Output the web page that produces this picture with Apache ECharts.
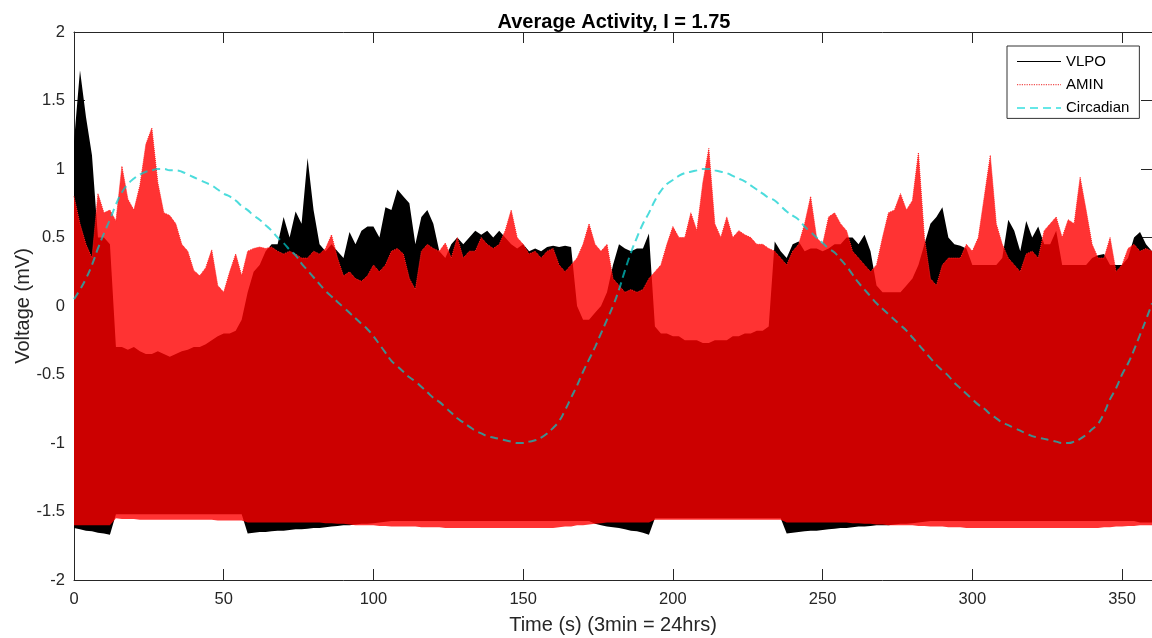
<!DOCTYPE html>
<html><head><meta charset="utf-8">
<script src="https://cdn.jsdelivr.net/npm/echarts@6.0.0/dist/echarts.min.js"></script>
<style>html,body{margin:0;padding:0;background:#fff}#c{width:1152px;height:638px}</style>
</head><body><div id="c"></div>
<script>
// time samples (s)
const timeS = [
0,2,4,6,8,10,12,14,16,18,
20,22,24,26,28,30,32,34,36,38,
40,42,44,46,48,50,52,54,56,58,
60,62,64,66,68,70,72,74,76,78,
80,82,84,86,88,90,92,94,96,98,
100,102,104,106,108,110,112,114,116,118,
120,122,124,126,128,130,132,134,136,138,
140,142,144,146,148,150,152,154,156,158,
160,162,164,166,168,170,172,174,176,178,
180,182,184,186,188,190,192,194,196,198,
200,202,204,206,208,210,212,214,216,218,
220,222,224,226,228,230,232,234,236,238,
240,242,244,246,248,250,252,254,256,258,
260,262,264,266,268,270,272,274,276,278,
280,282,284,286,288,290,292,294,296,298,
300,302,304,306,308,310,312,314,316,318,
320,322,324,326,328,330,332,334,336,338,
340,342,344,346,348,350,352,354,356,358,
360];
// AMIN oscillation envelope (upper / lower), mV
const aminHigh = [
0.8,0.6,0.45,0.35,0.82,0.68,0.7,0.62,1.02,0.78,
0.7,0.88,1.18,1.3,0.9,0.68,0.66,0.6,0.45,0.4,
0.26,0.22,0.28,0.41,0.15,0.1,0.25,0.38,0.22,0.4,
0.42,0.43,0.42,0.43,0.4,0.38,0.4,0.38,0.35,0.35,
0.4,0.38,0.42,0.52,0.35,0.22,0.25,0.2,0.18,0.22,
0.3,0.25,0.3,0.4,0.42,0.38,0.2,0.12,0.4,0.45,
0.42,0.4,0.46,0.35,0.5,0.35,0.4,0.4,0.5,0.45,
0.42,0.45,0.55,0.7,0.5,0.45,0.38,0.4,0.35,0.4,
0.42,0.3,0.25,0.3,0.35,0.45,0.6,0.45,0.4,0.45,
0.2,0.15,0.1,0.12,0.1,0.12,0.2,0.25,0.3,0.45,
0.58,0.5,0.5,0.68,0.55,0.9,1.15,0.6,0.5,0.65,
0.5,0.55,0.52,0.5,0.45,0.45,0.42,0.4,0.35,0.3,
0.4,0.45,0.6,0.8,0.5,0.45,0.65,0.68,0.6,0.55,
0.4,0.35,0.3,0.25,0.3,0.5,0.68,0.7,0.82,0.7,
0.77,1.12,0.5,0.2,0.15,0.3,0.35,0.35,0.35,0.45,
0.4,0.5,0.8,1.1,0.6,0.45,0.35,0.3,0.25,0.38,
0.4,0.35,0.55,0.6,0.65,0.5,0.63,0.6,0.94,0.7,
0.45,0.35,0.35,0.5,0.25,0.3,0.42,0.45,0.4,0.42,
0.4];
const aminLow = [
-1.6,-1.6,-1.6,-1.6,-1.6,-1.6,-1.6,-1.55,-1.555,-1.555,
-1.555,-1.56,-1.56,-1.56,-1.56,-1.56,-1.56,-1.56,-1.56,-1.56,
-1.56,-1.56,-1.56,-1.56,-1.565,-1.565,-1.565,-1.565,-1.565,-1.58,
-1.58,-1.58,-1.58,-1.58,-1.58,-1.58,-1.58,-1.58,-1.58,-1.58,
-1.58,-1.58,-1.585,-1.585,-1.59,-1.59,-1.595,-1.6,-1.6,-1.6,
-1.6,-1.605,-1.605,-1.61,-1.61,-1.61,-1.61,-1.61,-1.615,-1.615,
-1.615,-1.615,-1.62,-1.62,-1.62,-1.62,-1.62,-1.62,-1.62,-1.62,
-1.62,-1.62,-1.62,-1.62,-1.62,-1.62,-1.62,-1.62,-1.62,-1.62,
-1.62,-1.615,-1.61,-1.61,-1.6,-1.6,-1.595,-1.59,-1.585,-1.58,
-1.58,-1.58,-1.58,-1.58,-1.58,-1.58,-1.58,-1.56,-1.56,-1.56,
-1.56,-1.56,-1.56,-1.56,-1.56,-1.56,-1.56,-1.56,-1.56,-1.56,
-1.56,-1.56,-1.56,-1.56,-1.56,-1.56,-1.56,-1.56,-1.56,-1.58,
-1.58,-1.58,-1.58,-1.58,-1.58,-1.58,-1.58,-1.58,-1.58,-1.58,
-1.585,-1.585,-1.59,-1.59,-1.595,-1.595,-1.6,-1.6,-1.6,-1.6,
-1.6,-1.605,-1.605,-1.61,-1.61,-1.61,-1.615,-1.615,-1.615,-1.62,
-1.62,-1.62,-1.62,-1.62,-1.62,-1.62,-1.62,-1.62,-1.62,-1.62,
-1.62,-1.62,-1.62,-1.62,-1.62,-1.62,-1.62,-1.62,-1.62,-1.62,
-1.62,-1.62,-1.615,-1.615,-1.61,-1.61,-1.605,-1.605,-1.6,-1.6,
-1.6];
// VLPO oscillation envelope (upper / lower), mV
const vlpoHigh = [
1.2,1.72,1.38,1.1,0.5,0.5,0.45,-0.3,-0.3,-0.32,
-0.3,-0.33,-0.35,-0.35,-0.33,-0.35,-0.37,-0.35,-0.33,-0.32,
-0.3,-0.3,-0.28,-0.25,-0.22,-0.2,-0.2,-0.18,-0.1,0.1,
0.25,0.3,0.4,0.45,0.45,0.65,0.5,0.69,0.6,1.08,
0.7,0.45,0.4,0.45,0.4,0.35,0.54,0.45,0.55,0.58,
0.58,0.5,0.72,0.7,0.85,0.8,0.75,0.45,0.65,0.7,
0.6,0.4,0.35,0.45,0.5,0.45,0.5,0.55,0.52,0.55,
0.5,0.55,0.5,0.45,0.42,0.45,0.4,0.42,0.4,0.43,
0.44,0.43,0.44,0.43,0.0,-0.1,-0.1,-0.05,0.0,0.1,
0.3,0.45,0.42,0.4,0.42,0.42,0.53,-0.15,-0.2,-0.2,
-0.22,-0.22,-0.25,-0.25,-0.25,-0.27,-0.27,-0.25,-0.25,-0.25,
-0.22,-0.22,-0.2,-0.2,-0.18,-0.18,-0.15,0.47,0.4,0.35,
0.45,0.47,0.4,0.42,0.42,0.4,0.42,0.45,0.45,0.5,
0.5,0.45,0.52,0.4,0.15,0.1,0.1,0.1,0.1,0.15,
0.2,0.3,0.45,0.6,0.65,0.72,0.5,0.45,0.44,0.42,
0.3,0.3,0.3,0.3,0.3,0.35,0.63,0.55,0.4,0.62,
0.5,0.58,0.45,0.45,0.55,0.3,0.3,0.3,0.3,0.3,
0.35,0.37,0.38,0.3,0.3,0.3,0.35,0.5,0.54,0.45,
0.4];
const vlpoLow = [
-1.62,-1.63,-1.64,-1.645,-1.655,-1.66,-1.67,-1.52,-1.52,-1.52,
-1.52,-1.52,-1.52,-1.52,-1.52,-1.52,-1.52,-1.52,-1.52,-1.52,
-1.52,-1.52,-1.52,-1.52,-1.52,-1.52,-1.52,-1.52,-1.52,-1.66,
-1.655,-1.65,-1.65,-1.645,-1.64,-1.64,-1.635,-1.63,-1.63,-1.625,
-1.62,-1.62,-1.615,-1.61,-1.605,-1.6,-1.6,-1.595,-1.59,-1.59,
-1.585,-1.58,-1.575,-1.57,-1.57,-1.57,-1.57,-1.57,-1.57,-1.57,
-1.57,-1.57,-1.57,-1.57,-1.57,-1.57,-1.57,-1.57,-1.57,-1.57,
-1.57,-1.57,-1.57,-1.57,-1.57,-1.57,-1.57,-1.57,-1.57,-1.57,
-1.57,-1.57,-1.57,-1.57,-1.57,-1.57,-1.57,-1.59,-1.6,-1.61,
-1.615,-1.62,-1.63,-1.64,-1.645,-1.655,-1.67,-1.55,-1.55,-1.55,
-1.55,-1.55,-1.55,-1.55,-1.55,-1.55,-1.55,-1.55,-1.55,-1.55,
-1.55,-1.55,-1.55,-1.55,-1.55,-1.55,-1.55,-1.55,-1.55,-1.66,
-1.655,-1.65,-1.645,-1.64,-1.64,-1.635,-1.63,-1.625,-1.62,-1.62,
-1.615,-1.61,-1.61,-1.605,-1.6,-1.6,-1.6,-1.595,-1.59,-1.59,
-1.585,-1.58,-1.575,-1.57,-1.57,-1.57,-1.57,-1.57,-1.57,-1.57,
-1.57,-1.57,-1.57,-1.57,-1.57,-1.57,-1.57,-1.57,-1.57,-1.57,
-1.57,-1.57,-1.57,-1.57,-1.57,-1.57,-1.57,-1.57,-1.57,-1.57,
-1.57,-1.57,-1.57,-1.57,-1.57,-1.57,-1.57,-1.57,-1.58,-1.58,
-1.58];
// circadian drive, mV
const circadian = [
0.05,0.12,0.2,0.3,0.42,0.53,0.63,0.74,0.83,0.89,
0.93,0.96,0.98,0.99,1.0,1.0,0.99,0.99,0.98,0.96,
0.94,0.92,0.9,0.88,0.85,0.82,0.8,0.77,0.73,0.7,
0.66,0.63,0.59,0.55,0.5,0.46,0.41,0.37,0.31,0.26,
0.21,0.16,0.11,0.07,0.03,-0.01,-0.05,-0.09,-0.13,-0.17,
-0.22,-0.28,-0.34,-0.4,-0.44,-0.48,-0.52,-0.55,-0.59,-0.63,
-0.67,-0.7,-0.74,-0.78,-0.82,-0.85,-0.88,-0.91,-0.93,-0.95,
-0.96,-0.97,-0.98,-0.99,-1.0,-1.0,-0.99,-0.98,-0.96,-0.93,
-0.89,-0.84,-0.76,-0.67,-0.58,-0.48,-0.39,-0.3,-0.2,-0.1,
0.0,0.12,0.26,0.39,0.5,0.6,0.68,0.77,0.84,0.89,
0.92,0.95,0.97,0.98,0.99,1.0,1.0,0.99,0.98,0.97,
0.95,0.93,0.91,0.88,0.85,0.82,0.79,0.77,0.73,0.69,
0.66,0.63,0.58,0.54,0.5,0.46,0.42,0.39,0.34,0.29,
0.23,0.17,0.12,0.07,0.02,-0.02,-0.06,-0.1,-0.14,-0.18,
-0.23,-0.28,-0.33,-0.38,-0.43,-0.47,-0.51,-0.56,-0.6,-0.64,
-0.68,-0.72,-0.75,-0.79,-0.82,-0.85,-0.87,-0.89,-0.91,-0.93,
-0.95,-0.96,-0.97,-0.98,-0.99,-1.0,-1.0,-0.99,-0.97,-0.94,
-0.9,-0.86,-0.78,-0.68,-0.6,-0.5,-0.42,-0.32,-0.21,-0.1,
0.02];

const cats = timeS.map(String);
const vlBand = vlpoHigh.map((v, i) => +(v - vlpoLow[i]).toFixed(4));
const amBand = aminHigh.map((v, i) => +(v - aminLow[i]).toFixed(4));

const FONT = "'Liberation Sans', Arial, Helvetica, sans-serif";
const AX = '#262626';
const CYAN = 'rgba(0,205,205,0.7)';
const chart = echarts.init(document.getElementById('c'), null, {renderer: 'canvas'});
const tickEvery = 24; // label every 50 s (25 samples)
chart.setOption({
  animation: false,
  backgroundColor: '#fff',
  title: {
    text: 'Average Activity, I = 1.75',
    left: 609, top: 7, textAlign: 'center',
    textStyle: {fontFamily: FONT, fontSize: 20, fontWeight: 'bold', color: '#000'}
  },
  legend: {
    orient: 'vertical', left: 1007, top: 46,
    data: [
      {name: 'VLPO', lineStyle: {color: '#000', width: 1.2, type: 'solid', opacity: 1}},
      {name: 'AMIN', lineStyle: {color: '#f05050', width: 1.2, type: 'dotted', opacity: 1}},
      {name: 'Circadian', lineStyle: {color: 'rgba(0,215,215,0.6)', width: 2, type: [8, 5], opacity: 1}}
    ],
    itemStyle: {color: 'rgba(0,0,0,0)', borderWidth: 0, opacity: 0},
    backgroundColor: '#fff', borderColor: '#333', borderWidth: 1,
    padding: [8, 10, 3, 9], itemWidth: 44, itemHeight: 14, itemGap: 8.2,
    textStyle: {fontFamily: FONT, fontSize: 15, color: '#000'}
  },
  grid: {left: 74, right: 0, top: 32, bottom: 58, containLabel: false, outerBoundsMode: 'none'},
  xAxis: [{
    type: 'category', data: cats, boundaryGap: false, position: 'bottom',
    name: 'Time (s) (3min = 24hrs)', nameLocation: 'middle', nameGap: 35,
    nameTextStyle: {fontFamily: FONT, fontSize: 20, color: AX},
    axisLine: {onZero: false, lineStyle: {color: AX, width: 1}},
    axisTick: {inside: true, length: 11, interval: tickEvery, lineStyle: {color: AX}},
    axisLabel: {interval: tickEvery, margin: 11, fontFamily: FONT, fontSize: 16.5, color: AX},
    splitLine: {show: false}
  }, {
    type: 'category', data: cats, boundaryGap: false, position: 'top',
    axisLine: {onZero: false, lineStyle: {color: AX, width: 1}},
    axisTick: {inside: true, length: 11, interval: tickEvery, lineStyle: {color: AX}},
    axisLabel: {show: false}, splitLine: {show: false}
  }],
  yAxis: [{
    type: 'value', min: -2, max: 2, interval: 0.5, position: 'left',
    name: 'Voltage (mV)', nameLocation: 'middle', nameGap: 41, nameMoveOverlap: false,
    nameTextStyle: {fontFamily: FONT, fontSize: 20, color: AX},
    axisLine: {show: true, onZero: false, lineStyle: {color: AX, width: 1}},
    axisTick: {show: true, inside: true, length: 11, lineStyle: {color: AX}},
    axisLabel: {margin: 9, fontFamily: FONT, fontSize: 16.5, color: AX},
    splitLine: {show: false}
  }, {
    type: 'value', min: -2, max: 2, interval: 0.5, position: 'right',
    axisLine: {show: true, onZero: false, lineStyle: {color: AX, width: 1}},
    axisTick: {show: true, inside: true, length: 11, lineStyle: {color: AX}},
    axisLabel: {show: false}, splitLine: {show: false}
  }],
  series: [
    {name: 'vlpoBase', type: 'line', stack: 'vl', stackStrategy: 'all', data: vlpoLow,
     symbol: 'none', lineStyle: {width: 0, opacity: 0}, silent: true},
    {name: 'VLPO', type: 'line', stack: 'vl', stackStrategy: 'all', data: vlBand,
     symbol: 'none', lineStyle: {color: '#000', width: 0, opacity: 0},
     itemStyle: {color: '#000'}, areaStyle: {color: '#000', opacity: 1}},
    {name: 'aminBase', type: 'line', stack: 'am', stackStrategy: 'all', data: aminLow,
     symbol: 'none', lineStyle: {width: 0, opacity: 0}, silent: true},
    {name: 'AMIN', type: 'line', stack: 'am', stackStrategy: 'all', data: amBand,
     symbol: 'none', lineStyle: {color: '#ff2020', width: 1, type: 'dotted'},
     itemStyle: {color: '#ff4040'}, areaStyle: {color: 'rgb(255,0,0)', opacity: 0.8}},
    {name: 'Circadian', type: 'line', data: circadian, symbol: 'none', smooth: true,
     lineStyle: {color: CYAN, width: 2, type: [8, 5]},
     itemStyle: {color: CYAN}}
  ]
});
</script>
</body></html>
